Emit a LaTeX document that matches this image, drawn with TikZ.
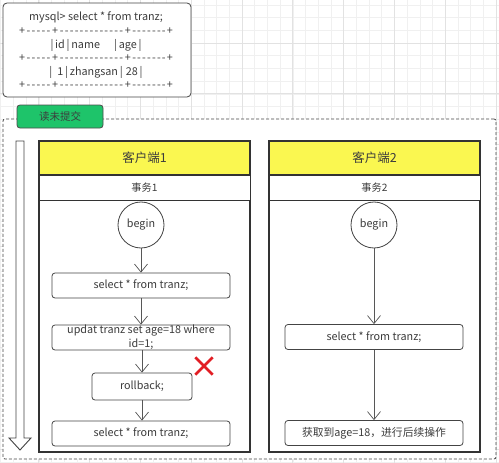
\documentclass[tikz,border=0pt]{standalone}
\usepackage{fontspec}
\setmainfont{Noto Sans CJK SC}
\usetikzlibrary{arrows.meta}
\definecolor{txt}{RGB}{60,60,60}
\definecolor{edge}{RGB}{68,68,68}
\definecolor{gridminor}{RGB}{240,240,240}
\definecolor{gridmajor}{RGB}{226,226,226}
\definecolor{hdr}{RGB}{250,247,80}
\definecolor{tab}{RGB}{30,196,106}
\definecolor{xred}{RGB}{226,30,36}
\tikzset{
  stepbox/.style={draw=edge, line width=0.8pt, rounded corners=3pt, fill=white, text=txt,
    font=\fontsize{10.8}{14}\selectfont, minimum width=178pt, minimum height=25pt, inner sep=0pt, align=center},
  startnode/.style={draw=edge, line width=0.8pt, circle, fill=white, text=txt,
    font=\fontsize{10.8}{12}\selectfont, minimum size=46pt, inner sep=0pt},
  flow/.style={draw=edge!90, line width=0.7pt, -{Straight Barb[length=8pt,width=13pt,line width=0.7pt]}},
  client/.style={draw=black!80, line width=1.3pt, minimum width=211pt, minimum height=311pt, inner sep=0pt},
  clienthead/.style={draw=black!80, line width=1.3pt, fill=hdr, text=txt, minimum width=211pt,
    minimum height=34pt, inner sep=0pt, font=\fontsize{12.5}{14}\selectfont},
  clientsub/.style={draw=black!80, line width=1.0pt, fill=white, text=txt, minimum width=211pt,
    minimum height=25pt, inner sep=0pt, font=\fontsize{10.2}{11}\selectfont},
  sqltext/.style={text=txt, font=\fontsize{10.8}{12}\selectfont, inner sep=0pt},
}
\newcommand{\seg}[1]{\hbox to #1{\cleaders\hbox{\kern0.6pt-\kern0.6pt}\hfil}}
\begin{document}
\begin{tikzpicture}[x=1pt,y=-1pt]
\useasboundingbox (0,0) rectangle (499,463);
\fill[white] (0,0) rectangle (499,463);
% background grid
\foreach \i in {0,...,40} {
  \pgfmathsetmacro{\xx}{0.7+12.7*\i}
  \draw[gridminor, line width=0.5pt] (\xx,0) -- (\xx,463);
}
\foreach \i in {0,...,37} {
  \pgfmathsetmacro{\yy}{4.9+12.7*\i}
  \draw[gridminor, line width=0.5pt] (0,\yy) -- (499,\yy);
}
\foreach \i in {0,...,10} {
  \pgfmathsetmacro{\xx}{38.8+50.8*\i-50.8}
  \draw[gridmajor, line width=0.7pt] (\xx,0) -- (\xx,463);
}
\foreach \i in {0,...,9} {
  \pgfmathsetmacro{\yy}{43+50.8*\i-50.8}
  \draw[gridmajor, line width=0.7pt] (0,\yy) -- (499,\yy);
}
% mysql box
\node[draw=edge, line width=0.8pt, rounded corners=4pt, fill=white, minimum width=188pt, minimum height=94pt, inner sep=0pt] (mysql) at (97,50) {};
\node[sqltext] (q) at (96,17) {mysql> select * from tranz;};
\node[sqltext] (s1) at (96,31) {+\seg{27pt}+\seg{67pt}+\seg{36pt}+};
\node[sqltext] (h) at (96,45) {|\,id\,|\,name\hspace{14pt}|\,age\,|};
\node[sqltext] (s2) at (96,58) {+\seg{27pt}+\seg{67pt}+\seg{36pt}+};
\node[sqltext] (r) at (96,72) {|\hspace{5pt}1\,|\,zhangsan\,|\hspace{3pt}28\,|};
\node[sqltext] (s3) at (96,85) {+\seg{27pt}+\seg{67pt}+\seg{36pt}+};
% dashed container
\node[draw=edge, dashed, dash pattern=on 3pt off 2pt, line width=0.8pt, rounded corners=2pt, fill=white,
  minimum width=493pt, minimum height=340pt, inner sep=0pt] (area) at (249.5,289) {};
\node[draw=black!70, line width=0.8pt, rounded corners=3pt, fill=tab, text=txt, minimum width=86pt,
  minimum height=23pt, inner sep=0pt, font=\fontsize{10.5}{12}\selectfont] (tabn) at (60,116.5) {读未提交};
% time arrow
\draw[draw=edge, line width=0.9pt, fill=white, line join=miter]
  (16,141) -- (24,141) -- (24,438) -- (31,438) -- (20,450) -- (9,438) -- (16,438) -- cycle;
% client 1
\node[client] (c1) at (144.5,296.5) {};
\node[clienthead] (c1h) at (144.5,158) {客户端1};
\node[clientsub] (c1s) at (144.5,187.5) {事务1};
\node[startnode] (b1) at (141,225) {begin};
\node[stepbox] (a1) at (141,285.5) {select * from tranz;};
\node[stepbox] (a2) at (141,337.5) {updat tranz set age=18 where\\id=1;};
\node[stepbox, minimum width=100pt, minimum height=27pt] (a3) at (142,386.5) {rollback;};
\node[stepbox] (a4) at (141,433.5) {select * from tranz;};
\draw[flow] (b1) -- (a1);
\draw[flow] (a1) -- (a2);
\draw[flow] (a2.south -| a3) -- (a3);
\draw[flow] (a3) -- (a4.north -| a3);
% red cross
\node[minimum size=17pt, inner sep=0pt] (xmark) at (204,366) {};
\draw[xred, line width=2.6pt] (xmark.north west) -- (xmark.south east);
\draw[xred, line width=2.6pt] (xmark.north east) -- (xmark.south west);
% client 2
\node[client] (c2) at (374.5,296.5) {};
\node[clienthead] (c2h) at (374.5,158) {客户端2};
\node[clientsub] (c2s) at (374.5,187.5) {事务2};
\node[startnode] (b2) at (374,225) {begin};
\node[stepbox] (d1) at (374,337) {select * from tranz;};
\node[stepbox] (d2) at (374,433) {获取到age=18，进行后续操作};
\draw[flow] (b2) -- (d1);
\draw[flow] (d1) -- (d2);
\end{tikzpicture}
\end{document}
